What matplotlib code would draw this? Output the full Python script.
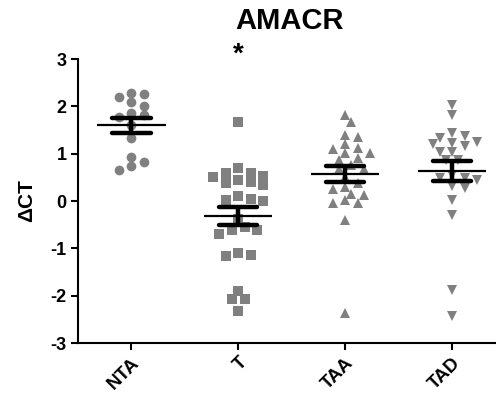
import numpy as np
import matplotlib
matplotlib.use("Agg")
import matplotlib.pyplot as plt
from matplotlib.transforms import ScaledTranslation

plt.rcParams['font.family'] = ['Liberation Sans', 'DejaVu Sans']
plt.rcParams['font.weight'] = 'bold'

categories = ["NTA", "T", "TAA", "TAD"]
markers = ["o", "s", "^", "v"]

nta = [2.26, 2.28, 2.19, 2.09, 2.01, 1.86, 1.82, 1.78, 1.61, 1.33, 0.83, 0.92, 0.73, 0.66]
t_vals = [1.66, 0.69, 0.59, 0.41, 0.51, 0.34, 0.53, 0.37, 0.60, 0.44,
          0.11, 0.02, 0.01, 0.04, -0.37, -0.54, -0.61, -0.70, -0.61,
          -1.09, -1.16, -1.14, -1.90, -2.07, -2.07, -2.33]
taa = [1.82, 1.66, 1.40, 1.36, 1.20, 1.09, 1.13, 1.01, 1.02, 0.90, 0.87, 0.76,
       0.68, 0.68, 0.50, 0.39, 0.29, 0.25, 0.15, 0.13, 0.02, -0.05, -0.05,
       -0.40, -2.37]
tad = [2.03, 1.82, 1.43, 1.37, 1.34, 1.25, 1.17, 1.22, 1.20, 1.03, 1.03, 0.87,
       0.87, 0.55, 0.48, 0.44, 0.49, 0.27, 0.32, 0.02, -0.30, -1.88, -2.43]
groups = [nta, t_vals, taa, tad]

yticks = [-3, -2, -1, 0, 1, 2, 3]
title = "AMACR"
ylabel = "\u0394CT"
sig_mark = "*"

W, H = 496, 403
fig = plt.figure(figsize=(W / 100, H / 100), dpi=100)
ax = fig.add_axes([77.5 / W, (H - 343) / H, 1 - 77.5 / W, (343 - 59) / H])
xlim = (-0.503, 3.41)
ylim = (-3, 3)
ax.set_xlim(*xlim)
ax.set_ylim(*ylim)

px_x = (W - 77.5) / (xlim[1] - xlim[0])
px_y = (343 - 59) / (ylim[1] - ylim[0])


def swarm(vals, step_px=6.3, diam_px=8.6):
    order = np.argsort(-np.asarray(vals))
    placed = []
    offs = np.zeros(len(vals))
    for i in order:
        yv = vals[i] * px_y
        for k in [0, 1, -1, 2, -2, 3, -3, 4, -4, 5, -5, 6, -6]:
            xo = k * step_px
            ok = all((xo - px) ** 2 + (yv - py) ** 2 >= diam_px ** 2 for px, py in placed)
            if ok:
                break
        placed.append((xo, yv))
        offs[i] = xo / px_x
    return offs


gray = "#808080"
for i, (vals, m) in enumerate(zip(groups, markers)):
    vals = np.asarray(vals, dtype=float)
    xs = i + swarm(vals)
    ms = 7.0 if m == "o" else (6.6 if m == "s" else 7.6)
    ax.plot(xs, vals, linestyle="none", marker=m, color=gray, markersize=ms,
            markeredgewidth=0, zorder=2)
    mean = vals.mean()
    sem = vals.std(ddof=1) / np.sqrt(len(vals))
    ax.hlines(mean, i - 0.32, i + 0.32, color="black", lw=1.6, zorder=3)
    ax.vlines(i, mean - sem, mean + sem, color="black", lw=3.2, zorder=3)
    ax.hlines([mean - sem, mean + sem], i - 0.18, i + 0.18, color="black", lw=3.2,
              zorder=3, capstyle="round")

ax.text(1, 3.1, sig_mark, ha="center", va="center", fontsize=20, fontweight="bold",
        clip_on=False)

for s in ["top", "right"]:
    ax.spines[s].set_visible(False)
for s in ["left", "bottom"]:
    ax.spines[s].set_linewidth(1.5)

ax.set_yticks(yticks)
ax.set_yticklabels([str(v) for v in yticks], fontsize=13, fontweight="bold")
ax.set_xticks(range(len(categories)))
ax.set_xticklabels(categories, fontsize=13.5, fontweight="bold", rotation=45,
                   ha="right", va="top", rotation_mode="anchor")
off = ScaledTranslation(8 / 100, -5 / 100, fig.dpi_scale_trans)
for lab in ax.get_xticklabels():
    lab.set_transform(lab.get_transform() + off)
ax.tick_params(axis="both", direction="out", length=5, width=1.5, pad=3)
ax.set_ylabel(ylabel, fontsize=15, fontweight="bold", labelpad=10)
fig.text(290 / W, 1 - 21 / H, title, ha="center", va="center", fontsize=21,
         fontweight="bold")

fig.savefig("out.png", dpi=100)
